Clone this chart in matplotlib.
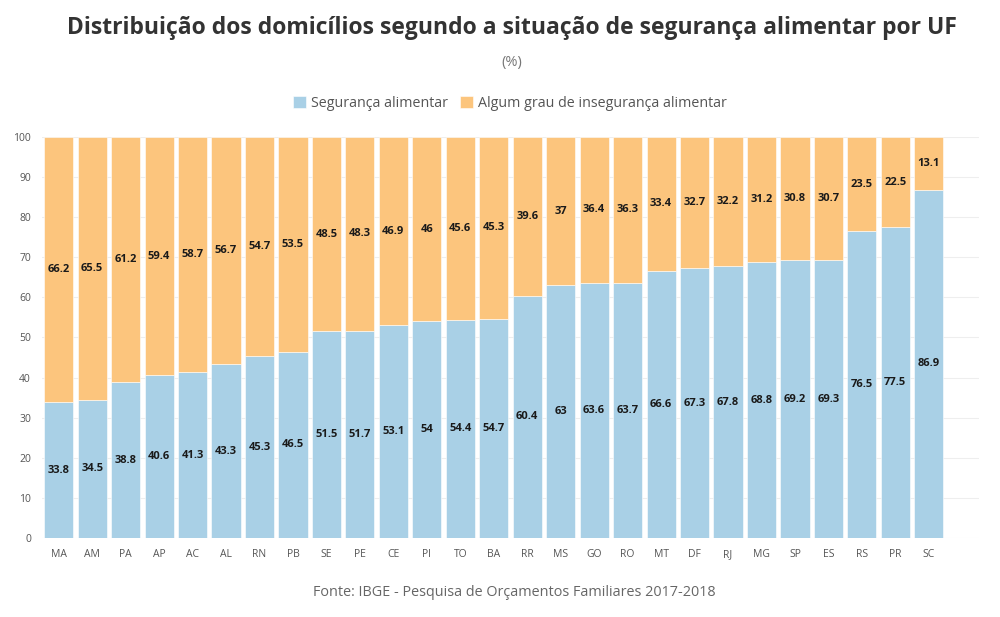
import numpy as np
import matplotlib.pyplot as plt

plt.rcParams['font.family'] = ['Open Sans', 'DejaVu Sans']

ufs = ['MA', 'AM', 'PA', 'AP', 'AC', 'AL', 'RN', 'PB', 'SE', 'PE', 'CE', 'PI', 'TO', 'BA',
       'RR', 'MS', 'GO', 'RO', 'MT', 'DF', 'RJ', 'MG', 'SP', 'ES', 'RS', 'PR', 'SC']
seguranca = [33.8, 34.5, 38.8, 40.6, 41.3, 43.3, 45.3, 46.5, 51.5, 51.7, 53.1, 54, 54.4, 54.7,
             60.4, 63, 63.6, 63.7, 66.6, 67.3, 67.8, 68.8, 69.2, 69.3, 76.5, 77.5, 86.9]
inseguranca = [66.2, 65.5, 61.2, 59.4, 58.7, 56.7, 54.7, 53.5, 48.5, 48.3, 46.9, 46, 45.6, 45.3,
               39.6, 37, 36.4, 36.3, 33.4, 32.7, 32.2, 31.2, 30.8, 30.7, 23.5, 22.5, 13.1]

c_seg = '#a9d0e6'
c_ins = '#fcc57d'

fig = plt.figure(figsize=(10, 6.17), dpi=100)
ax = fig.add_axes([0.042, 0.128, 0.937, 0.65])

x = np.arange(len(ufs))
b1 = ax.bar(x, seguranca, width=0.87, color=c_seg, edgecolor='white', linewidth=0.4, zorder=2,
            label='Segurança alimentar')
b2 = ax.bar(x, inseguranca, bottom=seguranca, width=0.87, color=c_ins, edgecolor='white',
            linewidth=0.4, zorder=2, label='Algum grau de insegurança alimentar')

for i in range(len(ufs)):
    ax.text(x[i], seguranca[i] / 2, '%g' % seguranca[i], ha='center', va='center',
            fontsize=8, fontweight='bold', color='#1a1a1a', zorder=3)
    ax.text(x[i], seguranca[i] + inseguranca[i] / 2, '%g' % inseguranca[i], ha='center',
            va='center', fontsize=8, fontweight='bold', color='#1a1a1a', zorder=3)

ax.set_xlim(-0.5, 27.5)
ax.set_ylim(0, 100)
ax.set_yticks(np.arange(0, 101, 10))
ax.set_xticks(x)
ax.set_xticklabels(ufs)
ax.tick_params(axis='both', length=0, labelsize=7.5, labelcolor='#555555')
ax.tick_params(axis='x', pad=8)
ax.tick_params(axis='y', pad=8)
ax.grid(axis='y', color='#eeeeee', linewidth=0.8, zorder=0)
for s in ax.spines.values():
    s.set_visible(False)

fig.text(0.512, 0.955, 'Distribuição dos domicílios segundo a situação de segurança alimentar por UF',
         ha='center', va='center', fontsize=16.5, fontweight='bold', color='#333333')
fig.text(0.512, 0.898, '(%)', ha='center', va='center', fontsize=10.5, color='#777777')
fig.legend(handles=[b1, b2], loc='center', bbox_to_anchor=(0.51, 0.833), ncol=2, frameon=False,
           fontsize=10.3, handlelength=0.9, handleheight=0.9, handletextpad=0.4, columnspacing=0.8,
           labelcolor='#555555')
fig.text(0.514, 0.04, 'Fonte: IBGE - Pesquisa de Orçamentos Familiares 2017-2018', ha='center',
         va='center', fontsize=10.4, color='#666666')

fig.savefig('out.png', dpi=100, facecolor='white')
